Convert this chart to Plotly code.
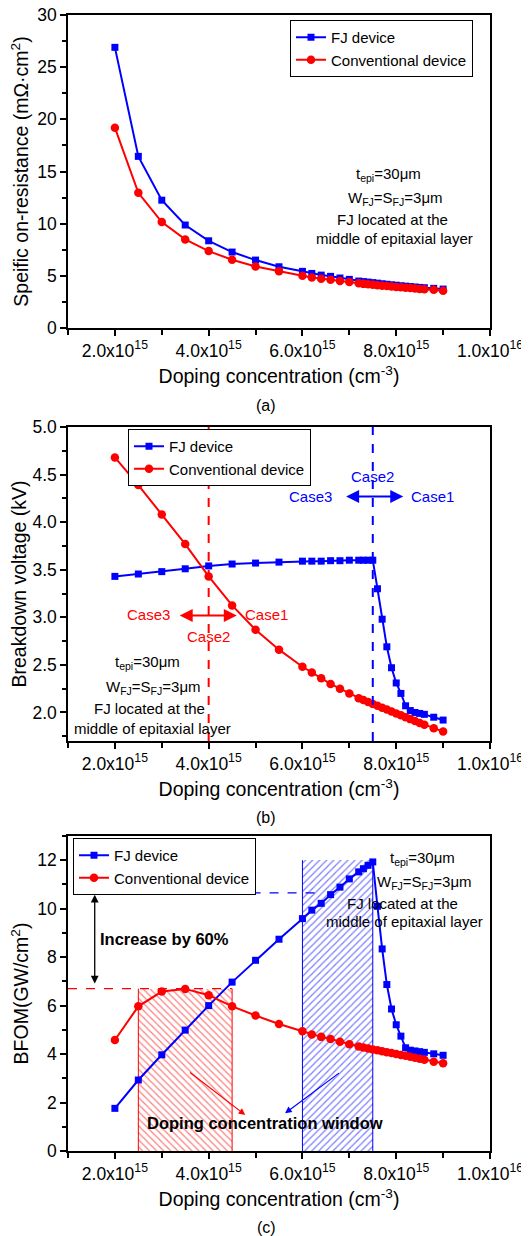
import plotly.graph_objects as go

W, H = 529, 1236

# ---------------- data (doping in units of 1e15 cm^-3) ----------------
doping = [2.0, 2.5, 3.0, 3.5, 4.0, 4.5, 5.0, 5.5, 6.0, 6.2, 6.4, 6.6, 6.8, 7.0,
          7.2, 7.3, 7.4, 7.5, 7.6, 7.7, 7.8, 7.9, 8.0, 8.1, 8.2, 8.3, 8.4, 8.5, 8.6,
          8.8, 9.0]

ron_fj = [26.9, 16.45, 12.25, 9.87, 8.36, 7.28, 6.51, 5.87, 5.43, 5.23, 5.07, 4.95, 4.79, 4.66,
          4.50, 4.45, 4.40, 4.35, 4.30, 4.24, 4.19, 4.14, 4.10, 4.05, 4.01, 3.97, 3.93, 3.89, 3.86,
          3.80, 3.73]
ron_conv = [19.2, 12.96, 10.15, 8.49, 7.37, 6.54, 5.90, 5.43, 5.01, 4.85, 4.72, 4.63, 4.50, 4.40,
            4.28, 4.23, 4.19, 4.14, 4.10, 4.06, 4.02, 3.98, 3.94, 3.90, 3.86, 3.83, 3.79, 3.75, 3.72,
            3.66, 3.57]

bv_fj = [3.43, 3.455, 3.48, 3.51, 3.54, 3.56, 3.57, 3.58, 3.59, 3.59, 3.59, 3.595, 3.595, 3.60,
         3.60, 3.60, 3.60, 3.60, 3.30, 2.98, 2.69, 2.47, 2.31, 2.20, 2.07, 2.02, 2.00, 1.99, 1.98,
         1.95, 1.92]
bv_conv = [4.68, 4.39, 4.08, 3.77, 3.43, 3.125, 2.87, 2.66, 2.48, 2.42, 2.36, 2.30, 2.25, 2.20,
           2.15, 2.13, 2.11, 2.09, 2.07, 2.05, 2.03, 2.01, 1.99, 1.97, 1.95, 1.93, 1.91, 1.89, 1.87,
           1.835, 1.80]

bfom_fj = [1.76, 2.93, 3.97, 4.99, 6.00, 6.97, 7.87, 8.74, 9.59, 9.94, 10.22, 10.58, 10.89, 11.23,
           11.52, 11.65, 11.79, 11.93, 10.10, 8.34, 6.87, 5.86, 5.21, 4.74, 4.26, 4.16, 4.13, 4.10, 4.07,
           4.01, 3.95]
bfom_conv = [4.58, 5.97, 6.58, 6.69, 6.43, 5.97, 5.59, 5.24, 4.94, 4.81, 4.71, 4.62, 4.51, 4.41,
             4.31, 4.27, 4.23, 4.19, 4.16, 4.12, 4.08, 4.04, 4.00, 3.96, 3.93, 3.89, 3.85, 3.81, 3.77,
             3.68, 3.62]

x_tickvals = [2e15, 4e15, 6e15, 8e15, 1e16]
x_ticktext = ["2.0x10<sup>15</sup>", "4.0x10<sup>15</sup>", "6.0x10<sup>15</sup>",
              "8.0x10<sup>15</sup>", "1.0x10<sup>16</sup>"]

# BFOM windows (x in 1e15, height)
red_window = [2.5, 4.5, 6.7]
blue_window = [6.0, 7.5, 12.0]
fj_level = 10.65
conv_level = 6.7

# ---------------------------------------------------------------------
x = [d * 1e15 for d in doping]
FONT = "Liberation Sans, Arial, sans-serif"
BLUE = "#0000FF"
RED = "#FF0000"
OFF = 8  # page body margin of the generated html

def pxx(p):
    return (p - OFF) / W

def pxy(p):
    return 1 - (p - OFF) / H

fig = go.Figure()

panels = [
    ("x", "y", "legend", ron_fj, ron_conv),
    ("x2", "y2", "legend2", bv_fj, bv_conv),
    ("x3", "y3", "legend3", bfom_fj, bfom_conv),
]

# hatched windows in panel (c) (drawn first, below the curves)
for win, shp, col in [(red_window, "\\", RED), (blue_window, "/", BLUE)]:
    fig.add_trace(go.Bar(
        x=[(win[0] + win[1]) / 2 * 1e15], y=[win[2]],
        width=[(win[1] - win[0]) * 1e15],
        marker=dict(color="rgba(255,255,255,0)",
                    line=dict(width=0),
                    pattern=dict(shape=shp, fgcolor=col, bgcolor="rgba(255,255,255,0)",
                                 size=5, solidity=0.25)),
        xaxis="x3", yaxis="y3", showlegend=False, hoverinfo="skip"))

for xa, ya, lg, fj, conv in panels:
    fig.add_trace(go.Scatter(
        x=x, y=fj, mode="lines+markers", name="FJ device",
        line=dict(color=BLUE, width=2),
        marker=dict(symbol="square", size=7, color=BLUE),
        xaxis=xa, yaxis=ya, legend=lg))
    fig.add_trace(go.Scatter(
        x=x, y=conv, mode="lines+markers", name="Conventional device",
        line=dict(color=RED, width=2),
        marker=dict(symbol="circle", size=8.5, color=RED),
        xaxis=xa, yaxis=ya, legend=lg))

xdom = [pxx(68), pxx(490)]
ydoms = [[pxy(328), pxy(15)], [pxy(741), pxy(427)], [pxy(1151), pxy(836)]]

axis_common = dict(
    showline=True, linecolor="black", linewidth=1.5, mirror=True,
    ticks="outside", ticklen=6, tickwidth=1.5, tickcolor="black",
    showgrid=False, zeroline=False, automargin=False, ticklabeloverflow="allow",
    tickfont=dict(family=FONT, size=17.5, color="black"),
)
xtitle = dict(text="Doping concentration (cm<sup>-3</sup>)",
              font=dict(family=FONT, size=19.5, color="black"), standoff=10)

layout = dict(
    width=W, height=H, margin=dict(l=0, r=0, t=0, b=0, autoexpand=False),
    paper_bgcolor="white", plot_bgcolor="white",
    barmode="overlay", bargap=0,
    font=dict(family=FONT, color="black"),
)

ytitles = ["Speific on-resistance (mΩ·cm<sup>2</sup>)", "Breakdown voltage (kV)",
           "BFOM(GW/cm<sup>2</sup>)"]
yranges = [[0, 30], [1.7, 5.0], [0, 13]]
ytickvals = [[0, 5, 10, 15, 20, 25, 30],
             [2.0, 2.5, 3.0, 3.5, 4.0, 4.5, 5.0],
             [0, 2, 4, 6, 8, 10, 12]]
yticktext = [[str(v) for v in ytickvals[0]],
             ["%.1f" % v for v in ytickvals[1]],
             [str(v) for v in ytickvals[2]]]
yminor = [2.5, 0.25, 1]

for i in range(3):
    suf = "" if i == 0 else str(i + 1)
    layout["xaxis" + suf] = dict(
        axis_common, domain=xdom, range=[1e15, 1e16],
        tickvals=x_tickvals, ticktext=x_ticktext,
        minor=dict(dtick=1e15, tick0=1e15, ticks="outside", ticklen=5, tickwidth=1.5,
                   tickcolor="black"),
        title=xtitle, anchor="y" + suf)
    layout["yaxis" + suf] = dict(
        axis_common, domain=ydoms[i], range=yranges[i],
        tickvals=ytickvals[i], ticktext=yticktext[i],
        minor=dict(dtick=yminor[i], tick0=0, ticks="outside", ticklen=4, tickwidth=1.5,
                   tickcolor="black"),
        title=dict(text=ytitles[i], font=dict(family=FONT, size=19.5, color="black"),
                   standoff=6),
        anchor="x" + suf)

legend_style = dict(bgcolor="white", bordercolor="black", borderwidth=1,
                    font=dict(family=FONT, size=15, color="black"),
                    xanchor="left", yanchor="top", tracegroupgap=0, itemwidth=30)
layout["legend"] = dict(legend_style, x=pxx(290), y=pxy(20))
layout["legend2"] = dict(legend_style, x=pxx(128), y=pxy(429))
layout["legend3"] = dict(legend_style, x=pxx(73), y=pxy(838))

fig.update_layout(**layout)

# ---------------- annotations ----------------
ann = []

def txt(text, xp, yp, size=15, color="black", bold=False):
    if bold:
        text = "<b>" + text + "</b>"
    ann.append(dict(text=text, x=pxx(xp), y=pxy(yp), xref="paper", yref="paper",
                    showarrow=False, xanchor="center", yanchor="middle",
                    font=dict(family=FONT, size=size, color=color)))

# captions
txt("(a)", 266, 405, size=16)
txt("(b)", 266, 817, size=16)
txt("(c)", 266, 1227, size=16)

# parameter text blocks
lines = ["t<sub>epi</sub>=30μm", "W<sub>FJ</sub>=S<sub>FJ</sub>=3μm",
         "FJ located at the", "middle of epitaxial layer"]
for (cx, ys) in [([388, 395, 392, 394], [174, 198, 219, 238]),
                 ([147, 153, 149, 152], [663, 687, 708, 728]),
                 ([422, 424, 402, 404], [859, 882, 903, 921])]:
    for t, xx, yy in zip(lines, cx, ys):
        txt(t, xx, yy)

# panel (b) case labels
txt("Case2", 372, 476, color=BLUE)
txt("Case3", 310, 497, color=BLUE)
txt("Case1", 432, 497, color=BLUE)
txt("Case3", 148, 614, color=RED)
txt("Case1", 266, 614, color=RED)
txt("Case2", 208, 636, color=RED)

# panel (c) texts
txt("Increase by 60%", 164, 939, size=16.5, bold=True)
txt("Doping concentration window", 265, 1123, size=16.5, bold=True)

# arrows (data coordinates)
def arrow(xa, ya, x0, y0, x1, y1, color, width, head, size, both=False):
    ann.append(dict(x=x1, y=y1, ax=x0, ay=y0, xref=xa, yref=ya, axref=xa, ayref=ya,
                    text="", showarrow=True, arrowhead=head, arrowsize=size,
                    arrowwidth=width, arrowcolor=color,
                    startarrowhead=head, startarrowsize=size,
                    arrowside="end+start" if both else "end"))

arrow("x2", "y2", 6.9e15, 4.27, 8.15e15, 4.27, BLUE, 2, 2, 1.3, both=True)
arrow("x2", "y2", 3.35e15, 3.02, 4.6e15, 3.02, RED, 2, 2, 1.3, both=True)
arrow("x3", "y3", 1.57e15, 6.85, 1.57e15, 10.58, "black", 1.3, 2, 1.2, both=True)
arrow("x3", "y3", 3.57e15, 3.29, 4.78e15, 1.49, RED, 1.2, 2, 1.1)
arrow("x3", "y3", 6.81e15, 3.26, 5.63e15, 1.56, BLUE, 1.2, 2, 1.1)

fig.update_layout(annotations=ann)

# ---------------- reference lines ----------------
shapes = [
    dict(type="line", xref="x2", yref="y2 domain", x0=4e15, x1=4e15, y0=0, y1=1,
         line=dict(color=RED, width=2, dash="dash")),
    dict(type="line", xref="x2", yref="y2 domain", x0=7.5e15, x1=7.5e15, y0=0, y1=1,
         line=dict(color=BLUE, width=2, dash="dash")),
    dict(type="line", xref="x3", yref="y3", x0=1.46e15, x1=6.42e15, y0=fj_level, y1=fj_level,
         line=dict(color=BLUE, width=1.3, dash="dash")),
    dict(type="line", xref="x3", yref="y3", x0=1.0e15, x1=red_window[1] * 1e15,
         y0=conv_level, y1=conv_level,
         line=dict(color=RED, width=1.3, dash="dash")),
]
# window side edges
for win, col in [(red_window, RED), (blue_window, BLUE)]:
    for xe in (win[0], win[1]):
        shapes.append(dict(type="line", xref="x3", yref="y3", x0=xe * 1e15, x1=xe * 1e15,
                           y0=0, y1=win[2], line=dict(color=col, width=1), layer="below"))
fig.update_layout(shapes=shapes)

fig.write_html("out.html")
